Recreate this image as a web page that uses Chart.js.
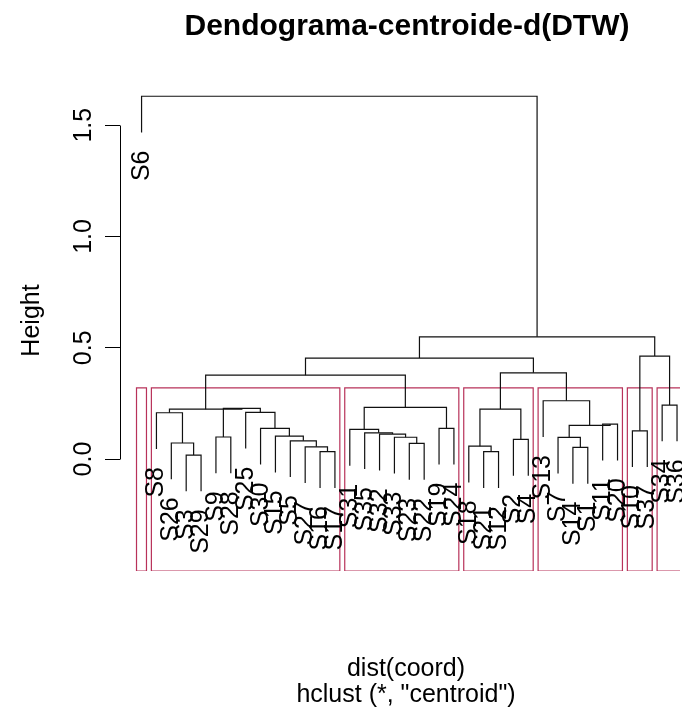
<!DOCTYPE html>
<html><head><meta charset="utf-8">
<script src="https://cdn.jsdelivr.net/npm/chart.js@4.4.1/dist/chart.umd.min.js"></script>
<style>html,body{margin:0;padding:0;background:#fff;overflow:hidden}canvas{display:block}</style>
</head><body>
<canvas id="c" width="682" height="717"></canvas>
<script>
// Leaf labels in dendrogram order (left to right)
const leafLabels = ["S6","S8","S26","S3","S29","S9","S28","S25","S30","S15","S5","S27","S16","S17",
  "S31","S35","S32","S33","S23","S22","S19","S24","S18","S21","S12","S2","S4",
  "S13","S7","S14","S1","S11","S20","S10","S37","S34","S36"];
// Merge table (negative = leaf position in the order above, positive = earlier merge row)
const mergeLeft  = [-4,-3,-2,-6,-13,-12,-11,-10,-9,-8, 4, 3,-19,-18,-17,-16,-15,-21,17,-24,-23,-26,21,-30,-29,-32,25,-28,-34,-36,12,23,31,29,33,-1];
const mergeRight = [-5, 1, 2,-7,-14,  5,  6,  7, 8, 9,10,11,-20, 13, 14, 15, 16,-22,18,-25, 20,-27,22,-31, 24,-33,26, 27,-35,-37,19,28,32,30,34,35];
const mergeHeight = [0.018,0.072,0.208,0.099,0.033,0.055,0.082,0.103,0.138,0.210,0.228,0.224,
  0.070,0.098,0.112,0.118,0.133,0.138,0.232,0.033,0.058,0.088,0.2245,0.0525,0.0975,0.157,0.151,0.262,
  0.127,0.2425,0.377,0.3875,0.4535,0.4625,0.549,1.630];
// rect.hclust(k = 7) cluster sizes, in order
const clusterSizes = [1,13,8,5,6,2,2];
const yTickValues = [0, 0.5, 1.0, 1.5];
const yTickLabels = ["0.0","0.5","1.0","1.5"];
const titleText = "Dendograma-centroide-d(DTW)";
const xLabelText = "dist(coord)";
const subText = 'hclust (*, "centroid")';
const yLabelText = "Height";

const Y_MIN = -0.503, Y_MAX = 1.712, X_MIN = -0.45, X_MAX = 37.2;
const FONT = '"Liberation Sans", Arial, Helvetica, sans-serif';

const hang = 0.1 * Math.max(...mergeHeight);
const nodeX = [];
const leafEnd = {};
const treeSets = [];
mergeHeight.forEach((h, i) => {
  const pos = (c) => {
    if (c < 0) { leafEnd[-c] = h - hang; return {x: -c, y: h - hang}; }
    return {x: nodeX[c - 1], y: mergeHeight[c - 1]};
  };
  const l = pos(mergeLeft[i]), r = pos(mergeRight[i]);
  nodeX[i] = (l.x + r.x) / 2;
  treeSets.push({
    data: [{x: l.x, y: l.y}, {x: l.x, y: h}, {x: r.x, y: h}, {x: r.x, y: r.y}],
    borderColor: "#111", borderWidth: 1.2, pointRadius: 0, showLine: true, fill: false, tension: 0
  });
});

const k = clusterSizes.length;
const sortedH = [...mergeHeight].sort((a, b) => b - a);
const cutH = (sortedH[k - 2] + sortedH[k - 1]) / 2;
const rectSets = [];
let cum = 0;
clusterSizes.forEach(sz => {
  const x0 = cum + 0.66, x1 = cum + sz + 0.33;
  cum += sz;
  rectSets.push({
    data: [{x: x0, y: Y_MIN}, {x: x0, y: cutH}, {x: x1, y: cutH}, {x: x1, y: Y_MIN}, {x: x0, y: Y_MIN}],
    borderColor: "#B8325A", borderWidth: 1.2, pointRadius: 0, showLine: true, fill: false, tension: 0
  });
});

const textPlugin = {
  id: "rtext",
  afterDraw(chart) {
    const ctx = chart.ctx, xs = chart.scales.x, ys = chart.scales.y, ca = chart.chartArea;
    ctx.save();
    ctx.fillStyle = "#000";
    ctx.strokeStyle = "#000";
    ctx.lineWidth = 1;
    // y axis line from first to last tick
    const ax = Math.round(ca.left) + 0.5;
    ctx.beginPath();
    ctx.moveTo(ax, Math.round(ys.getPixelForValue(yTickValues[0])) + 0.5);
    ctx.lineTo(ax, Math.round(ys.getPixelForValue(yTickValues[yTickValues.length - 1])) + 0.5);
    ctx.stroke();
    // tick labels
    ctx.font = "25px " + FONT;
    yTickValues.forEach((v, i) => {
      ctx.save();
      ctx.translate(91, ys.getPixelForValue(v));
      ctx.rotate(-Math.PI / 2);
      ctx.textAlign = "center"; ctx.textBaseline = "alphabetic";
      ctx.fillText(yTickLabels[i], 0, 0);
      ctx.restore();
    });
    // y title
    ctx.save();
    ctx.translate(39, (ca.top + ca.bottom) / 2 - 4);
    ctx.rotate(-Math.PI / 2);
    ctx.textAlign = "center"; ctx.textBaseline = "alphabetic";
    ctx.fillText(yLabelText, 0, 0);
    ctx.restore();
    // leaf labels
    leafLabels.forEach((lab, i) => {
      const idx = i + 1;
      ctx.save();
      ctx.translate(xs.getPixelForValue(idx) + 7, ys.getPixelForValue(leafEnd[idx]) + 18);
      ctx.rotate(-Math.PI / 2);
      ctx.textAlign = "right"; ctx.textBaseline = "alphabetic";
      ctx.fillText(lab, 0, 0);
      ctx.restore();
    });
    // title and bottom labels
    ctx.textAlign = "center"; ctx.textBaseline = "alphabetic";
    ctx.font = "bold 30px " + FONT;
    ctx.fillText(titleText, 407, 35);
    ctx.font = "25px " + FONT;
    ctx.fillText(xLabelText, 406, 676);
    ctx.fillText(subText, 406, 702);
    ctx.restore();
  }
};

new Chart(document.getElementById("c"), {
  type: "scatter",
  data: { datasets: [...treeSets, ...rectSets] },
  options: {
    responsive: false, animation: false, devicePixelRatio: 1,
    layout: { padding: { top: 78, bottom: 146, left: 0, right: 2 } },
    plugins: { legend: { display: false }, tooltip: { enabled: false }, title: { display: false } },
    scales: {
      x: { type: "linear", min: X_MIN, max: X_MAX, display: false },
      y: {
        type: "linear", min: Y_MIN, max: Y_MAX,
        afterFit(s) { s.width = 120; },
        afterBuildTicks(s) { s.ticks = yTickValues.map(v => ({ value: v })); },
        ticks: { display: false },
        border: { display: false },
        grid: { drawOnChartArea: false, drawTicks: true, tickLength: 15, color: "#000", lineWidth: 1 }
      }
    }
  },
  plugins: [textPlugin]
});
</script>
</body></html>
